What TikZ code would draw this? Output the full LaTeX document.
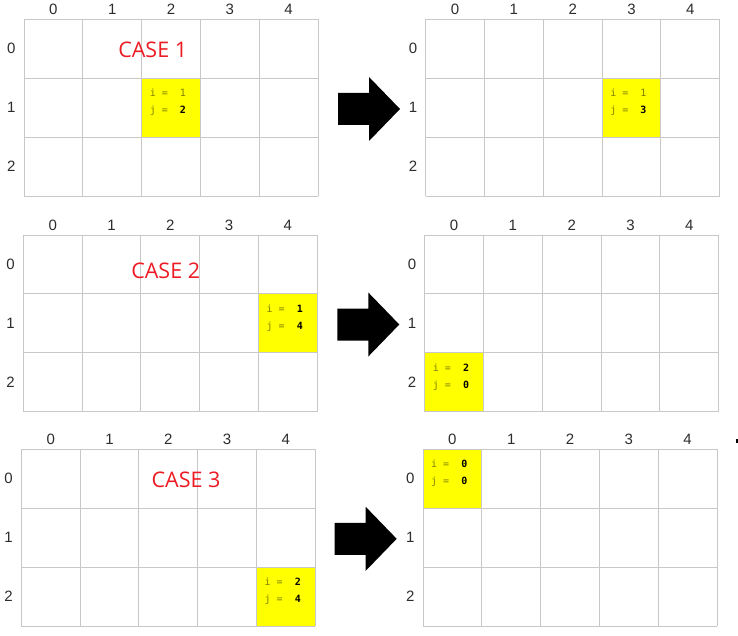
\documentclass[tikz,border=0pt]{standalone}
\usepackage{fontspec}
\setmainfont{Liberation Sans}
\setmonofont{DejaVu Sans Mono}
\newfontfamily\casefont{Open Sans}
\usetikzlibrary{positioning}
\definecolor{gridgray}{RGB}{200,200,200}
\definecolor{labelgray}{RGB}{45,45,45}
\definecolor{casered}{RGB}{237,28,36}
\definecolor{codeolive}{RGB}{128,128,0}
\definecolor{cellyellow}{RGB}{255,255,0}
\newcommand{\boldval}[1]{\textbf{\color{black}#1}}

\begin{document}
\begin{tikzpicture}[x=1pt,y=-1pt]
	\fill[white] (0,0) rectangle (738,636);
	\useasboundingbox (0,0) rectangle (738,636);
	\tikzstyle{every node}=[font=\fontsize{15}{17}\selectfont, text=labelgray, inner sep=0pt]
	\tikzstyle{codeline}=[anchor=base west, text=codeolive, font=\ttfamily\fontsize{10}{12}\selectfont]
	% boards: name/left/top/yellow column/yellow row/i value/j value
	\foreach \g/\gx/\gy/\yc/\yr/\iv/\jv in {g1/24/19.3/2/1/1/\boldval{2}, g2/425.7/19.3/3/1/1/\boldval{3},
		g3/23.3/235/4/1/\boldval{1}/\boldval{4}, g4/424.7/235/0/2/\boldval{2}/\boldval{0},
		g5/21.3/449.3/4/2/\boldval{2}/\boldval{4}, g6/423/449.3/0/0/\boldval{0}/\boldval{0}}{
		\fill[cellyellow] (\gx+\yc*58.8, \gy+\yr*58.9) rectangle ++(58.8,58.9);
		\foreach \k in {0,...,5} \draw[gridgray, line width=0.9pt] (\gx+\k*58.8,\gy) -- ++(0,176.7);
		\foreach \k in {0,...,3} \draw[gridgray, line width=0.9pt] (\gx,\gy+\k*58.9) -- ++(294,0);
		\foreach \c in {0,...,4} \node (\g-c\c) at (\gx+29.4+\c*58.8, \gy-10) {\c};
		\foreach \r in {0,...,2} \node (\g-r\r) at (\gx-12.7, \gy+29.45+\r*58.9) {\r};
		\node[codeline] (\g-i) at (\gx+\yc*58.8+8, \gy+\yr*58.9+18.5) {i =\ \ \iv};
		\node[codeline] (\g-j) at (\gx+\yc*58.8+8, \gy+\yr*58.9+35.5) {j =\ \ \jv};
	}
	\tikzstyle{every node}=[font=\casefont\fontsize{21.5}{24}\selectfont, text=casered, inner sep=0pt]
	\node (case1) at (152.7,50) {CASE 1};
	\node (case2) at (165.7,270.7) {CASE 2};
	\node (case3) at (186,480) {CASE 3};
	% block arrows
	\coordinate (a1) at (338,109);
	\coordinate (a2) at (337.3,324.5);
	\coordinate (a3) at (334.7,538.8);
	\foreach \a in {a1,a2,a3}
		\fill[black] (\a) ++(0,-16) -- ++(31,0) -- ++(0,-16) -- ++(31,32) -- ++(-31,32) -- ++(0,-16) -- ++(-31,0) -- cycle;
	\fill[black] (736.3,439.2) rectangle (738,442.5);
\end{tikzpicture}
\end{document}
